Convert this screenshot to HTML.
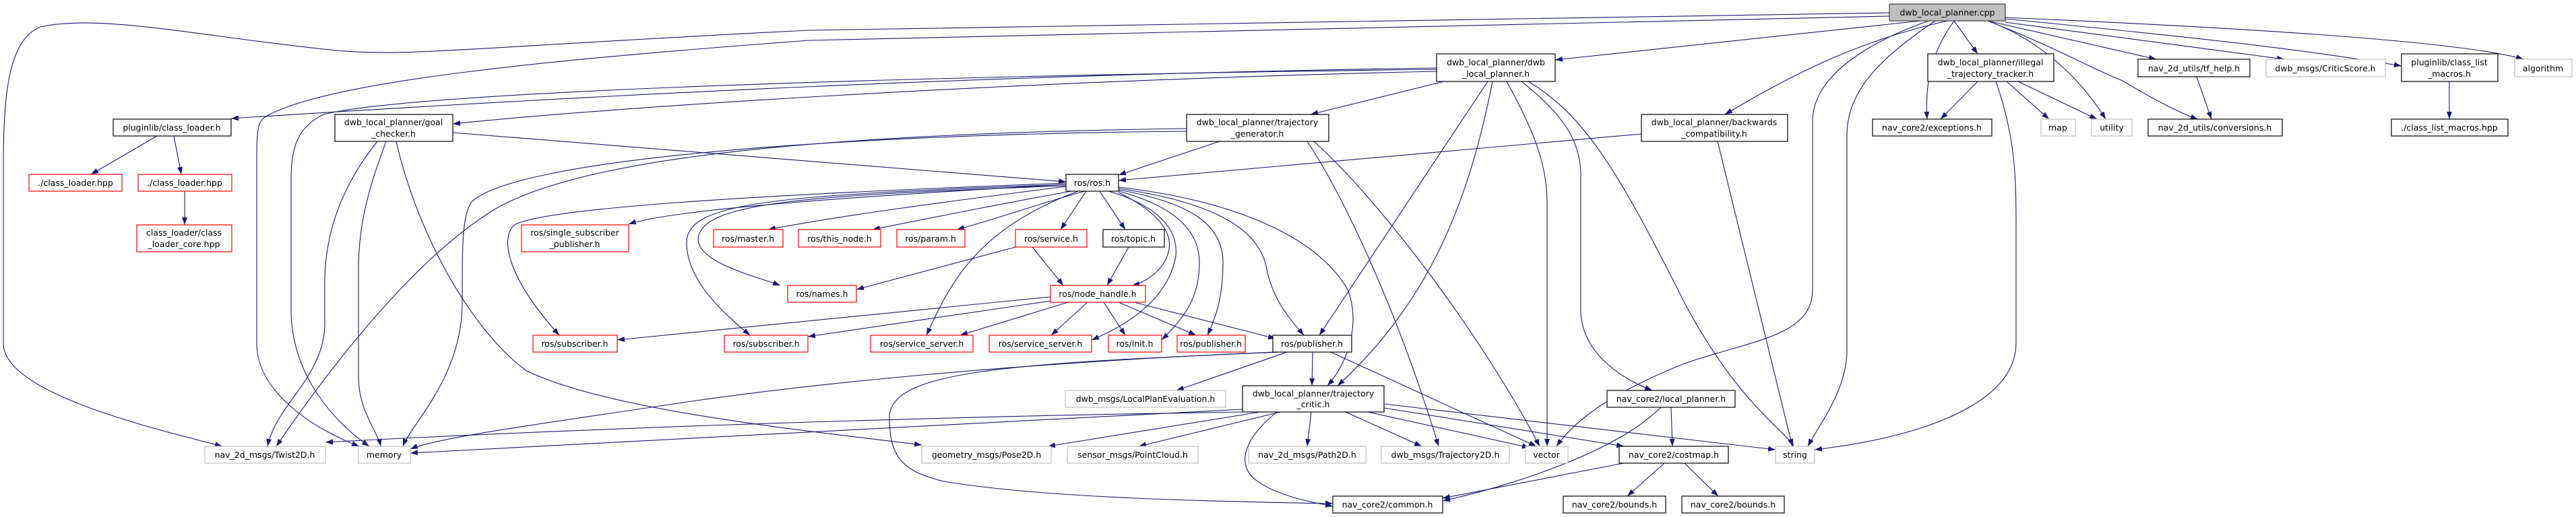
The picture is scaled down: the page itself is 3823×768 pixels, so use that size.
<!DOCTYPE html>
<html><head><meta charset="utf-8"><style>
html,body{margin:0;padding:0;background:#fff;}
svg{display:block}
text{font-family:"DejaVu Sans","Liberation Sans",sans-serif;font-size:12.5px;fill:#000;text-anchor:middle}
.e{fill:none;stroke:#191970;stroke-width:1.1}
.b{fill:#fff;stroke:#000;stroke-width:1.2}
.r{fill:#fff;stroke:#ff0000;stroke-width:1.2}
.g{fill:#fff;stroke:#bfbfbf;stroke-width:1.2}
.c{fill:#bfbfbf;stroke:#404040;stroke-width:1.2}
</style></head><body>
<svg width="3823" height="768" viewBox="0 0 3823 768" xmlns="http://www.w3.org/2000/svg">
<defs><marker id="a" markerWidth="11" markerHeight="8" refX="11" refY="4" orient="auto" markerUnits="userSpaceOnUse"><path d="M0,0 L11,4 L0,8 z" fill="#191970"/></marker></defs>
<g class="e" marker-end="url(#a)">
<path d="M2804,19 L1200,45 C700,70 600,85 500,75 C300,55 150,20 60,40 C10,60 5,150 5,250 L5,510 C5,580 200,630 330,663"/>
<path d="M2804,24 L1200,60 C800,90 500,120 400,170 C380,180 381,190 381,260 L381,510 C381,580 460,635 533,663"/>
<path d="M2850,31 L2308,89"/>
<path d="M2890,31 C2760,60 2660,110 2560,170"/>
<path d="M2862,31 C2780,60 2690,110 2690,180 L2690,430 C2690,500 2600,505 2500,540 C2400,580 2340,620 2310,663"/>
<path d="M2872,31 C2800,80 2741,130 2741,200 L2741,520 C2741,580 2700,630 2683,663"/>
<path d="M2900,31 C2880,60 2855,100 2860,177"/>
<path d="M2900,31 L2935,80"/>
<path d="M2950,31 C3030,60 3090,120 3125,177"/>
<path d="M2950,31 C3050,70 3100,100 3150,120 C3200,150 3240,170 3262,177"/>
<path d="M2950,31 L3200,88"/>
<path d="M2976,33 L3390,88"/>
<path d="M2976,28 C3200,50 3400,70 3564,98"/>
<path d="M2976,26 C3300,40 3650,60 3745,88"/>
<path d="M2132,101 C1500,110 900,140 343,176"/>
<path d="M2132,103 C1200,115 600,140 480,170 C440,190 432,220 432,270 L432,460 C432,560 500,630 548,663"/>
<path d="M2132,106 C1500,120 900,160 672,184"/>
<path d="M2143,121 L1945,170"/>
<path d="M2208,121 L1958,498"/>
<path d="M2215,121 C2180,300 2120,450 1985,573"/>
<path d="M2236,121 C2280,200 2296,250 2296,300 L2296,663"/>
<path d="M2258,121 C2320,170 2346,210 2346,260 L2346,460 C2346,520 2400,560 2452,580"/>
<path d="M2268,121 C2350,170 2400,250 2500,450 C2580,600 2650,640 2662,663"/>
<path d="M1810,210 L1660,260"/>
<path d="M1761,195 C1200,200 760,240 700,300 C686,320 686,360 686,450 C686,560 610,630 598,663"/>
<path d="M1761,191 C1100,200 820,250 720,320 C600,400 480,560 410,663"/>
<path d="M1940,210 C2000,300 2080,480 2135,663"/>
<path d="M1950,210 C2050,300 2200,500 2285,663"/>
<path d="M2436,199 L1660,268"/>
<path d="M2549,210 L2660,663"/>
<path d="M672,197 L1582,270"/>
<path d="M560,210 C520,260 482,330 482,420 L482,480 C482,560 410,600 397,663"/>
<path d="M573,210 C555,260 532,320 532,400 L532,560 C532,610 560,640 565,663"/>
<path d="M588,210 C620,350 700,490 780,550 C900,610 1200,640 1368,661"/>
<path d="M1582,277 C1400,300 1250,320 1140,341"/>
<path d="M1590,284 C1500,300 1400,320 1295,341"/>
<path d="M1610,284 C1550,300 1480,325 1420,341"/>
<path d="M1612,284 L1574,341"/>
<path d="M1632,284 L1670,341"/>
<path d="M1582,276 C1200,290 1040,300 1036,355 C1036,390 1120,410 1158,424"/>
<path d="M1582,274 C1150,290 1020,300 1019,360 C1019,420 1080,470 1113,498"/>
<path d="M1582,272 C1100,290 800,310 762,335 C740,360 760,420 830,498"/>
<path d="M1582,274 C1300,290 1000,310 933,333"/>
<path d="M1600,284 C1450,340 1410,420 1375,498"/>
<path d="M1645,284 C1700,300 1750,330 1745,380 C1735,440 1680,480 1620,505"/>
<path d="M1660,286 C1710,310 1740,340 1735,370 C1730,400 1700,420 1680,424"/>
<path d="M1660,284 C1720,300 1780,330 1780,390 C1780,440 1760,470 1724,505"/>
<path d="M1660,282 C1760,300 1815,330 1815,390 C1815,450 1800,480 1792,498"/>
<path d="M1660,280 C1800,300 1870,340 1880,400 C1890,450 1920,480 1935,498"/>
<path d="M1660,278 C1850,300 1960,360 2000,430 C2020,480 2000,540 1970,573"/>
<path d="M1507,367 L1271,430"/>
<path d="M1532,367 L1578,424"/>
<path d="M1675,367 L1643,424"/>
<path d="M1559,441 L916,505"/>
<path d="M1559,447 L1199,500"/>
<path d="M1585,449 L1425,498"/>
<path d="M1614,449 L1560,498"/>
<path d="M1638,449 L1670,498"/>
<path d="M1660,449 L1775,498"/>
<path d="M1683,449 L1893,503"/>
<path d="M1910,523 L1746,580"/>
<path d="M1948,523 L1947,573"/>
<path d="M1889,523 C1500,540 1200,570 1000,600 C800,630 650,650 609,667"/>
<path d="M1975,523 L2280,663"/>
<path d="M1900,523 C1500,540 1320,550 1320,620 C1320,680 1340,700 1400,715 C1550,740 1800,745 1978,748"/>
<path d="M1844,612 C1300,620 800,640 483,657"/>
<path d="M1844,608 C1300,640 800,660 609,673"/>
<path d="M1870,612 L1555,663"/>
<path d="M1900,612 L1690,663"/>
<path d="M1946,612 L1940,663"/>
<path d="M1997,612 L2110,663"/>
<path d="M2030,612 L2270,665"/>
<path d="M2054,606 L2410,663"/>
<path d="M2054,600 L2635,668"/>
<path d="M1895,612 C1860,640 1830,680 1860,710 C1890,735 1940,745 1978,752"/>
<path d="M2935,121 L2880,177"/>
<path d="M2978,121 L3041,177"/>
<path d="M2995,121 L3112,177"/>
<path d="M2962,121 C2990,200 2992,260 2992,330 L2992,510 C2992,600 2850,650 2693,668"/>
<path d="M3260,114 L3282,177"/>
<path d="M3635,121 L3635,177"/>
<path d="M2480,605 L2482,663"/>
<path d="M2465,605 C2400,670 2250,720 2141,744"/>
<path d="M2410,688 L2141,740"/>
<path d="M2470,688 L2415,737"/>
<path d="M2500,688 L2550,737"/>
<path d="M233,202 L135,259"/>
<path d="M258,202 L269,259"/>
<path d="M274,284 L274,334"/>
</g>
<g>
<rect class="c" x="2804" y="6" width="172" height="25"/><text x="2890" y="23">dwb_local_planner.cpp</text>
<rect class="b" x="2132" y="80" width="176" height="41"/><text x="2220" y="97">dwb_local_planner/dwb</text><text x="2220" y="114">_local_planner.h</text>
<rect class="b" x="2861" y="80" width="187" height="41"/><text x="2954" y="97">dwb_local_planner/illegal</text><text x="2954" y="114">_trajectory_tracker.h</text>
<rect class="b" x="3173" y="88" width="166" height="26"/><text x="3256" y="106">nav_2d_utils/tf_help.h</text>
<rect class="g" x="3363" y="88" width="177" height="26"/><text x="3451" y="106">dwb_msgs/CriticScore.h</text>
<rect class="b" x="3564" y="80" width="143" height="41"/><text x="3635" y="97">pluginlib/class_list</text><text x="3635" y="114">_macros.h</text>
<rect class="g" x="3732" y="88" width="85" height="26"/><text x="3774" y="106">algorithm</text>
<rect class="b" x="168" y="177" width="175" height="25"/><text x="255" y="194">pluginlib/class_loader.h</text>
<rect class="b" x="497" y="170" width="175" height="40"/><text x="584" y="186">dwb_local_planner/goal</text><text x="584" y="203">_checker.h</text>
<rect class="b" x="1761" y="170" width="211" height="40"/><text x="1866" y="186">dwb_local_planner/trajectory</text><text x="1866" y="203">_generator.h</text>
<rect class="b" x="2436" y="170" width="217" height="40"/><text x="2544" y="186">dwb_local_planner/backwards</text><text x="2544" y="203">_compatibility.h</text>
<rect class="b" x="2779" y="177" width="177" height="25"/><text x="2867" y="194">nav_core2/exceptions.h</text>
<rect class="g" x="3029" y="177" width="51" height="25"/><text x="3054" y="194">map</text>
<rect class="g" x="3104" y="177" width="60" height="25"/><text x="3134" y="194">utility</text>
<rect class="b" x="3188" y="177" width="199" height="25"/><text x="3287" y="194">nav_2d_utils/conversions.h</text>
<rect class="b" x="3549" y="177" width="173" height="25"/><text x="3635" y="194">./class_list_macros.hpp</text>
<rect class="r" x="43" y="259" width="138" height="25"/><text x="112" y="276">./class_loader.hpp</text>
<rect class="r" x="205" y="259" width="139" height="25"/><text x="274" y="276">./class_loader.hpp</text>
<rect class="b" x="1582" y="259" width="78" height="25"/><text x="1621" y="276">ros/ros.h</text>
<rect class="r" x="203" y="334" width="141" height="40"/><text x="273" y="350">class_loader/class</text><text x="273" y="367">_loader_core.hpp</text>
<rect class="r" x="774" y="334" width="159" height="40"/><text x="853" y="350">ros/single_subscriber</text><text x="853" y="367">_publisher.h</text>
<rect class="r" x="1059" y="341" width="103" height="26"/><text x="1110" y="359">ros/master.h</text>
<rect class="r" x="1185" y="341" width="122" height="26"/><text x="1246" y="359">ros/this_node.h</text>
<rect class="r" x="1331" y="341" width="101" height="26"/><text x="1381" y="359">ros/param.h</text>
<rect class="r" x="1507" y="341" width="106" height="26"/><text x="1560" y="359">ros/service.h</text>
<rect class="b" x="1637" y="341" width="91" height="26"/><text x="1682" y="359">ros/topic.h</text>
<rect class="r" x="1169" y="424" width="102" height="25"/><text x="1220" y="441">ros/names.h</text>
<rect class="r" x="1559" y="424" width="141" height="25"/><text x="1629" y="441">ros/node_handle.h</text>
<rect class="r" x="791" y="498" width="125" height="25"/><text x="853" y="515">ros/subscriber.h</text>
<rect class="r" x="1075" y="498" width="124" height="25"/><text x="1137" y="515">ros/subscriber.h</text>
<rect class="r" x="1292" y="498" width="152" height="25"/><text x="1368" y="515">ros/service_server.h</text>
<rect class="r" x="1468" y="498" width="152" height="25"/><text x="1544" y="515">ros/service_server.h</text>
<rect class="r" x="1645" y="498" width="79" height="25"/><text x="1684" y="515">ros/init.h</text>
<rect class="r" x="1747" y="498" width="101" height="25"/><text x="1797" y="515">ros/publisher.h</text>
<rect class="b" x="1889" y="498" width="117" height="25"/><text x="1947" y="515">ros/publisher.h</text>
<rect class="g" x="1581" y="580" width="238" height="25"/><text x="1700" y="597">dwb_msgs/LocalPlanEvaluation.h</text>
<rect class="b" x="1844" y="573" width="210" height="39"/><text x="1949" y="589">dwb_local_planner/trajectory</text><text x="1949" y="605">_critic.h</text>
<rect class="b" x="2385" y="580" width="190" height="25"/><text x="2480" y="597">nav_core2/local_planner.h</text>
<rect class="g" x="304" y="663" width="179" height="25"/><text x="393" y="680">nav_2d_msgs/Twist2D.h</text>
<rect class="g" x="532" y="663" width="77" height="25"/><text x="570" y="680">memory</text>
<rect class="g" x="1368" y="663" width="192" height="25"/><text x="1464" y="680">geometry_msgs/Pose2D.h</text>
<rect class="g" x="1584" y="663" width="194" height="25"/><text x="1681" y="680">sensor_msgs/PointCloud.h</text>
<rect class="g" x="1853" y="663" width="174" height="25"/><text x="1940" y="680">nav_2d_msgs/Path2D.h</text>
<rect class="g" x="2050" y="663" width="190" height="25"/><text x="2145" y="680">dwb_msgs/Trajectory2D.h</text>
<rect class="g" x="2264" y="663" width="63" height="25"/><text x="2295" y="680">vector</text>
<rect class="b" x="2403" y="663" width="162" height="25"/><text x="2484" y="680">nav_core2/costmap.h</text>
<rect class="g" x="2635" y="663" width="58" height="25"/><text x="2664" y="680">string</text>
<rect class="b" x="1978" y="737" width="163" height="25"/><text x="2059" y="754">nav_core2/common.h</text>
<rect class="b" x="2320" y="737" width="152" height="25"/><text x="2396" y="754">nav_core2/bounds.h</text>
<rect class="b" x="2496" y="737" width="152" height="25"/><text x="2572" y="754">nav_core2/bounds.h</text>
</g>
</svg>
</body></html>
